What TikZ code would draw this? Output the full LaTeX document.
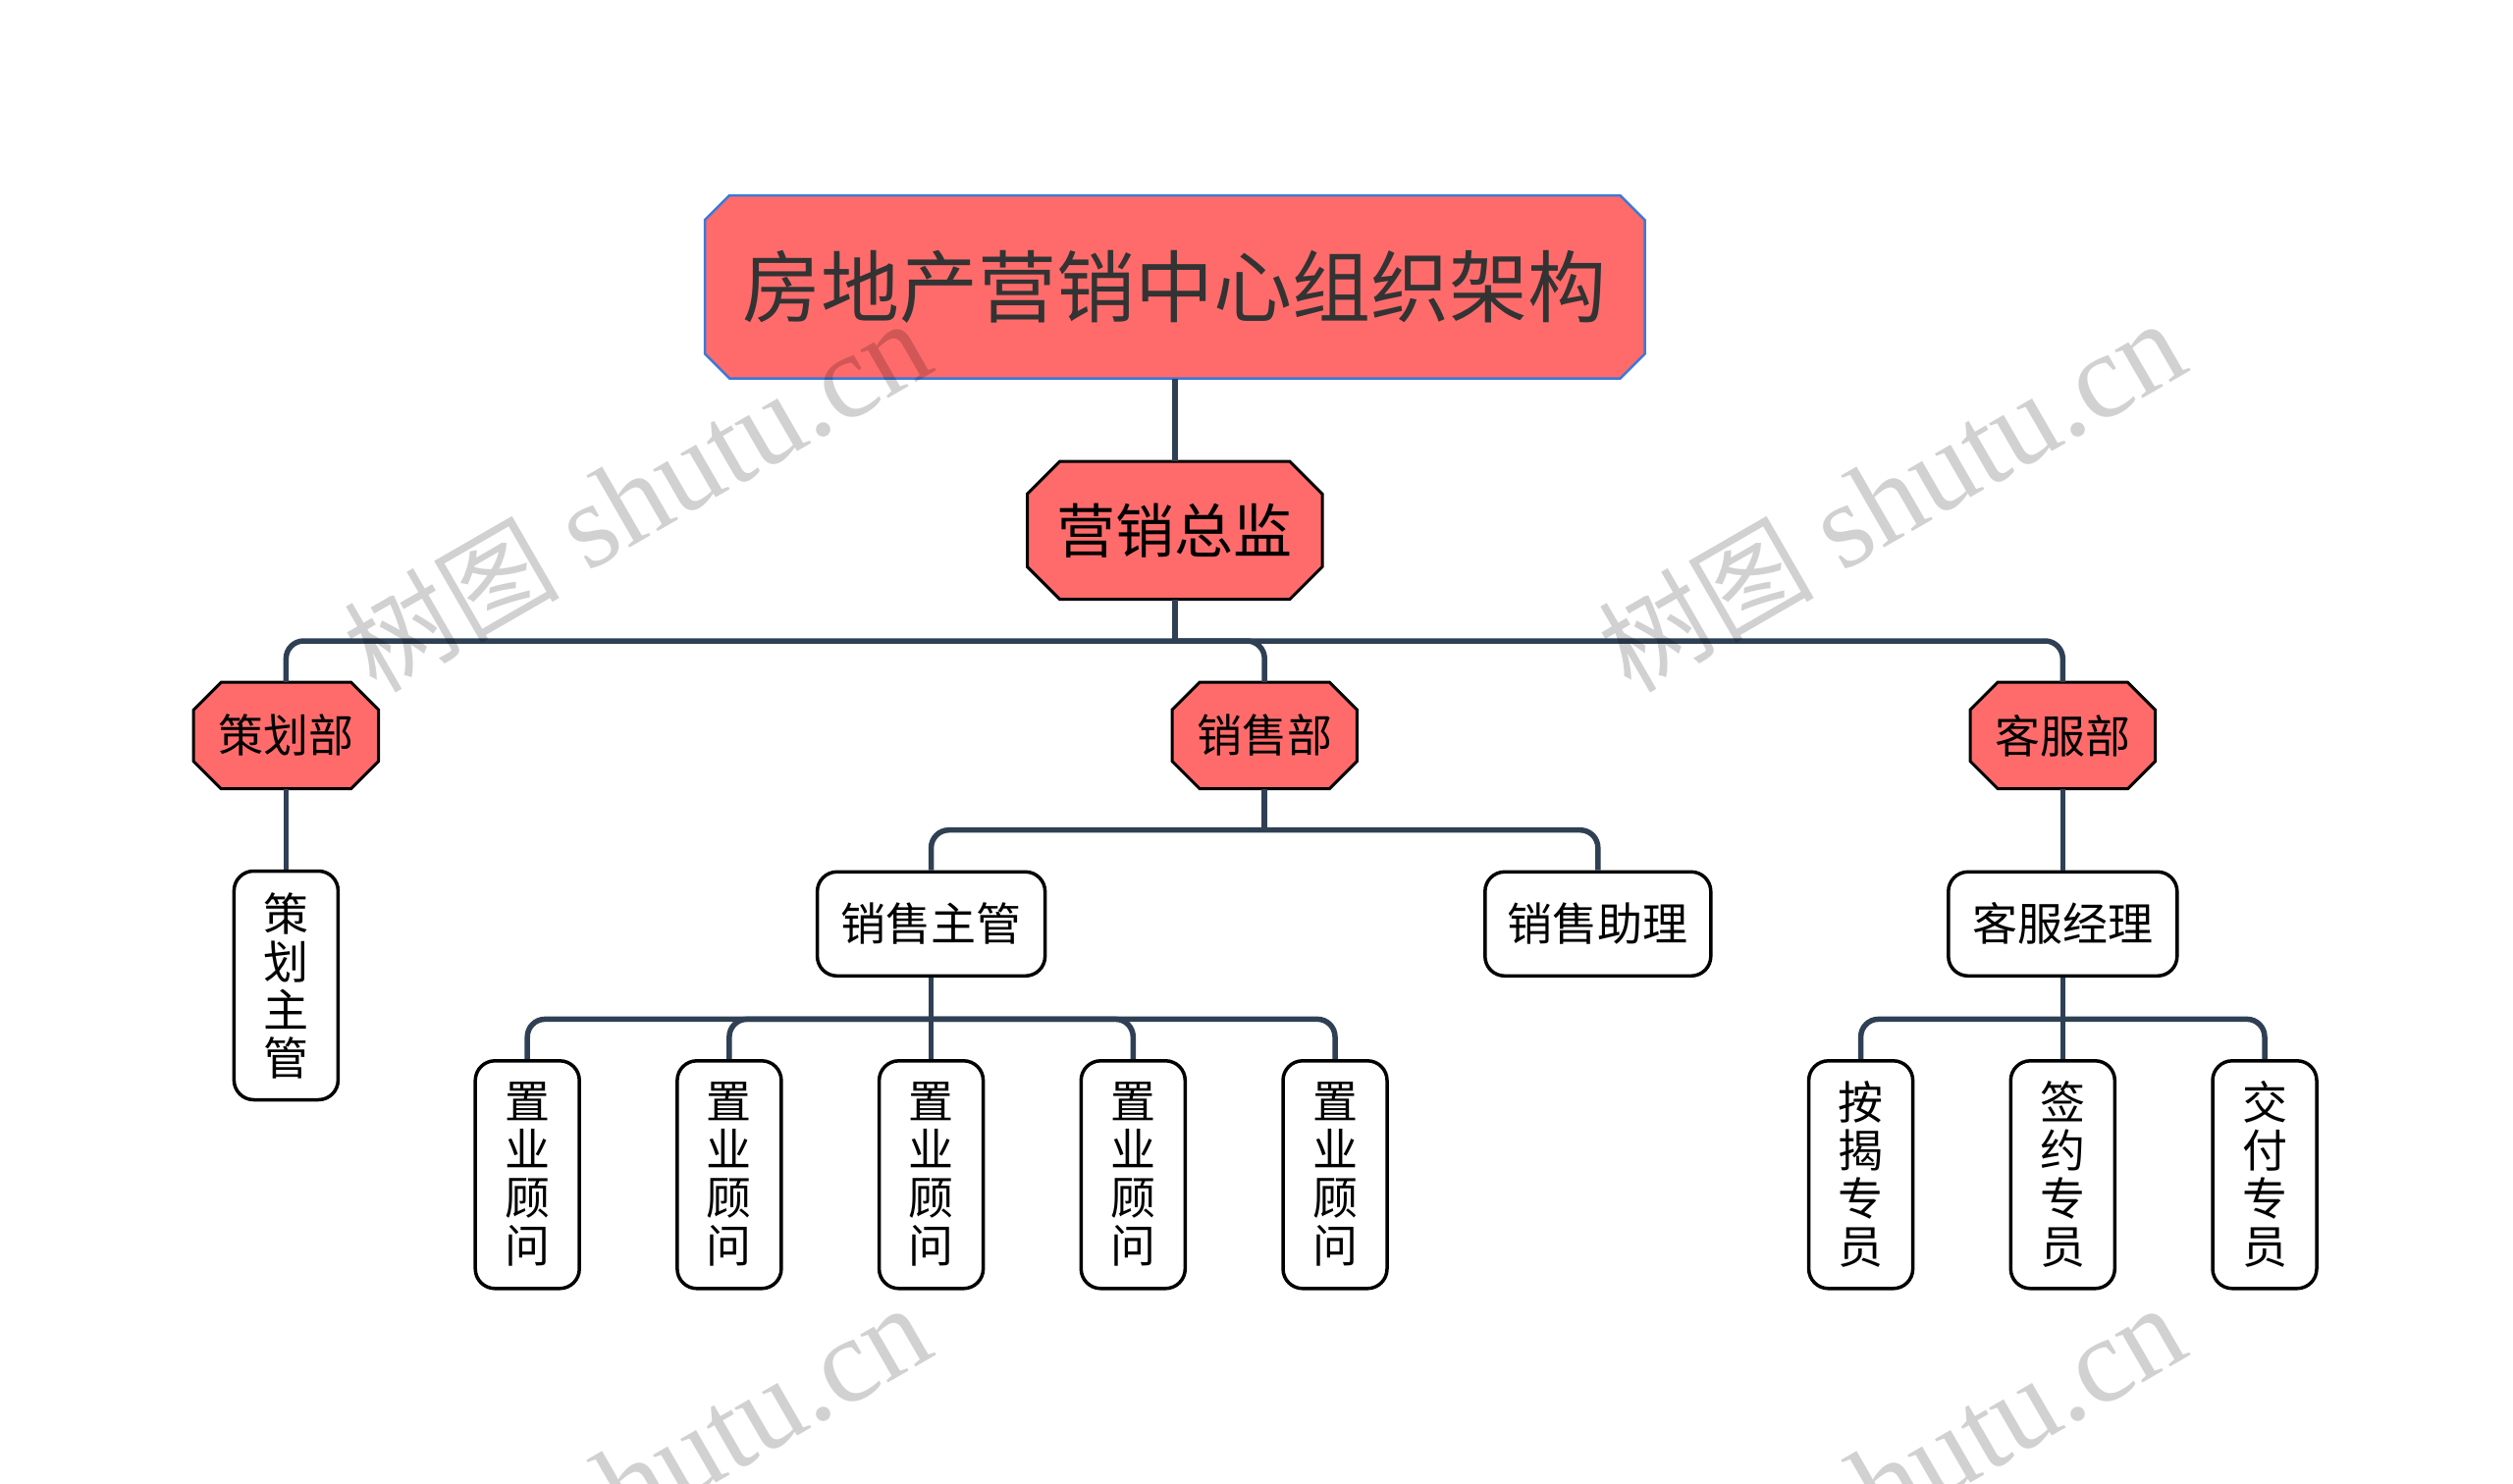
\documentclass[tikz,border=0pt]{standalone}
\usepackage{fontspec}
\setmainfont{Noto Sans CJK SC}
\newfontfamily\wmserif{Liberation Serif}
\usetikzlibrary{calc}
\definecolor{redfill}{HTML}{FF6B6B}
\definecolor{linec}{HTML}{2F4054}
\definecolor{titleborder}{HTML}{3C78D8}
\definecolor{titletext}{HTML}{333333}
\pgfdeclarelayer{bg}
\pgfdeclarelayer{fg}
\pgfsetlayers{bg,main,fg}
\newcommand\octdraw[3]{%
  \draw[#3] ($(#1.north west)+(#2,0)$) -- ($(#1.north east)+(-#2,0)$)
    -- ($(#1.north east)+(0,#2)$) -- ($(#1.south east)+(0,-#2)$)
    -- ($(#1.south east)+(-#2,0)$) -- ($(#1.south west)+(#2,0)$)
    -- ($(#1.south west)+(0,-#2)$) -- ($(#1.north west)+(0,#2)$) -- cycle;}
\begin{document}
\begin{tikzpicture}[x=1pt,y=-1pt,
  octbox/.style={rectangle, inner sep=0pt, align=center},
  octline/.style={draw=black, line width=3pt, fill=redfill, line join=miter},
  leaf/.style={rectangle, rounded corners=20pt, draw=black, line width=3.5pt, fill=white,
     inner sep=0pt, align=center, font=\fontsize{46}{49}\selectfont},
  conn/.style={draw=linec, line width=5.5pt, rounded corners=18pt},
  wm/.style={text=black, text opacity=0.18, font=\fontsize{123}{123}\selectfont, rotate=30, inner sep=0pt}
]
\useasboundingbox (0,0) rectangle (2560,1512);
\begin{pgfonlayer}{bg}
\fill[white] (0,0) rectangle (2560,1512);
\end{pgfonlayer}

% main nodes
\node[octbox, minimum width=957, minimum height=186, text=titletext,
      font=\fontsize{80}{80}\selectfont] (title) at (1196.8,292.3) {房地产营销中心组织架构};
\node[octbox, minimum width=300, minimum height=140,
      font=\fontsize{60}{60}\selectfont] (zs) at (1196.8,540.4) {营销总监};
\node[octbox, minimum width=188, minimum height=108,
      font=\fontsize{46}{46}\selectfont] (chb) at (291.4,749.4) {策划部};
\node[octbox, minimum width=188, minimum height=108,
      font=\fontsize{46}{46}\selectfont] (xsb) at (1288.2,749.4) {销售部};
\node[octbox, minimum width=188, minimum height=108,
      font=\fontsize{46}{46}\selectfont] (kfb) at (2101.3,749.4) {客服部};

\begin{pgfonlayer}{bg}
\octdraw{title}{25}{draw=titleborder, line width=2.5pt, fill=redfill}
\octdraw{zs}{33}{octline}
\octdraw{chb}{28}{octline}
\octdraw{xsb}{28}{octline}
\octdraw{kfb}{28}{octline}
\end{pgfonlayer}

% second level
\node[leaf, minimum width=106, minimum height=233] (chzg) at (291.4,1004) {策\\划\\主\\管};
\node[leaf, minimum width=232, minimum height=106] (xszg) at (948.6,941.3) {销售主管};
\node[leaf, minimum width=230, minimum height=106] (xszl) at (1627.8,941.3) {销售助理};
\node[leaf, minimum width=233, minimum height=106] (kfjl) at (2101.3,941.3) {客服经理};

% third level
\node[leaf, minimum width=106, minimum height=232] (zy1) at (537.2,1196.8) {置\\业\\顾\\问};
\node[leaf, minimum width=106, minimum height=232] (zy2) at (742.9,1196.8) {置\\业\\顾\\问};
\node[leaf, minimum width=106, minimum height=232] (zy3) at (948.6,1196.8) {置\\业\\顾\\问};
\node[leaf, minimum width=106, minimum height=232] (zy4) at (1154.3,1196.8) {置\\业\\顾\\问};
\node[leaf, minimum width=106, minimum height=232] (zy5) at (1360.0,1196.8) {置\\业\\顾\\问};
\node[leaf, minimum width=106, minimum height=232] (aj) at (1895.6,1196.8) {按\\揭\\专\\员};
\node[leaf, minimum width=106, minimum height=232] (qy) at (2101.3,1196.8) {签\\约\\专\\员};
\node[leaf, minimum width=106, minimum height=232] (jf) at (2307.0,1196.8) {交\\付\\专\\员};

% bus coordinates
\coordinate (y1) at (0,653);
\coordinate (y2) at (0,845.7);
\coordinate (y3) at (0,1038.4);
\coordinate (j1) at (zs.south |- y1);
\coordinate (j2) at (xsb.south |- y2);
\coordinate (j3) at (xszg.south |- y3);
\coordinate (j4) at (kfjl.south |- y3);

% connectors
\draw[conn] (title.south) -- (zs.north);
\draw[conn] (zs.south) -- (j1);
\draw[conn] (j1) -| (chb.north);
\draw[conn] (j1) -| (xsb.north);
\draw[conn] (j1) -| (kfb.north);
\draw[conn] (chb.south) -- (chzg.north);

\draw[conn] (xsb.south) -- (j2);
\draw[conn] (j2) -| (xszg.north);
\draw[conn] (j2) -| (xszl.north);

\draw[conn] (xszg.south) -- (j3);
\draw[conn] (j3) -| (zy1.north);
\draw[conn] (j3) -| (zy2.north);
\draw[conn] (j3) -- (zy3.north);
\draw[conn] (j3) -| (zy4.north);
\draw[conn] (j3) -| (zy5.north);

\draw[conn] (kfb.south) -- (kfjl.north);
\draw[conn] (kfjl.south) -- (j4);
\draw[conn] (j4) -| (aj.north);
\draw[conn] (j4) -- (qy.north);
\draw[conn] (j4) -| (jf.north);

% watermarks
\begin{pgfonlayer}{fg}
\node[wm] (wm1) at (649,506) {{\fontsize{110}{110}\selectfont 树图} {\wmserif shutu.cn}};
\node[wm] (wm2) at (1927,506) {{\fontsize{110}{110}\selectfont 树图} {\wmserif shutu.cn}};
\node[wm] (wm3) at (649,1509) {{\fontsize{110}{110}\selectfont 树图} {\wmserif shutu.cn}};
\node[wm] (wm4) at (1927,1509) {{\fontsize{110}{110}\selectfont 树图} {\wmserif shutu.cn}};
\end{pgfonlayer}
\end{tikzpicture}
\end{document}
